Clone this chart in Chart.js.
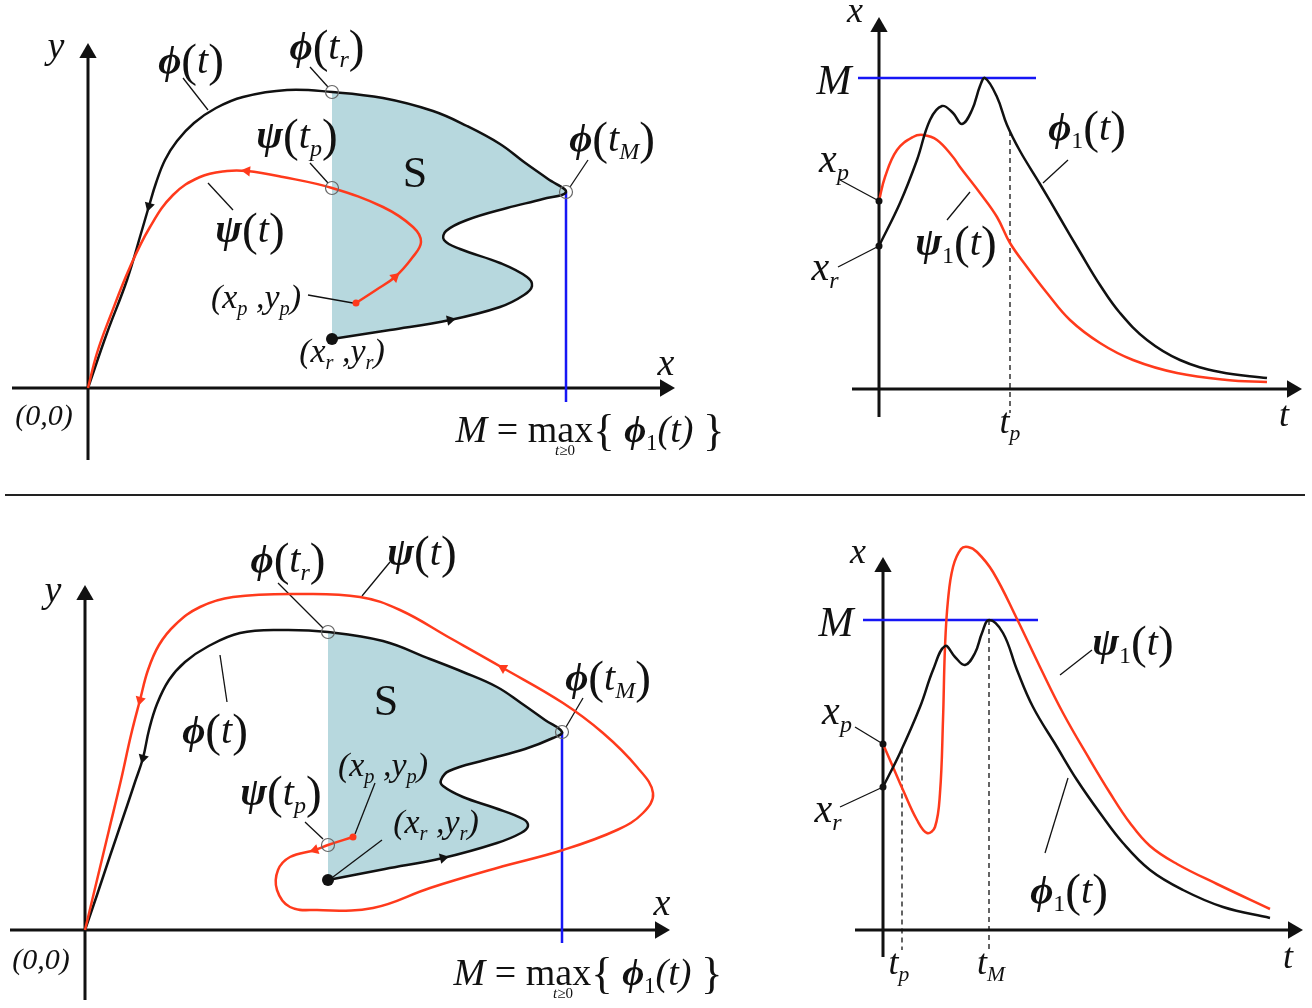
<!DOCTYPE html>
<html>
<head>
<meta charset="utf-8">
<script src="https://cdn.jsdelivr.net/npm/chart.js@4.4.0/dist/chart.umd.min.js"></script>
<style>
  html, body { margin: 0; padding: 0; background: #fff; }
  #page { position: relative; width: 1312px; height: 1008px; overflow: hidden; background: #fff; }
  .panel { position: absolute; }
  #rule { position: absolute; left: 5px; top: 494px; width: 1300px; border-top: 2px solid #222; }
</style>
</head>
<body>
<div id="page">
  <div class="panel" style="left:0;top:0"><canvas id="tl" width="740" height="490"></canvas></div>
  <div class="panel" style="left:760px;top:0"><canvas id="tr" width="552" height="490"></canvas></div>
  <div id="rule"></div>
  <div class="panel" style="left:0;top:500px"><canvas id="bl" width="740" height="508"></canvas></div>
  <div class="panel" style="left:760px;top:500px"><canvas id="br" width="552" height="508"></canvas></div>
</div>
<script>
// ---- data: (x, y), origin at the axes crossing ----

// top left: phase plane, psi(t) stays left of M
const tlPhi = [[244,49],[302,58],[362,68],[412,81],[436,93],[444,102],[439,111],[412,125],[372,139],[356,148],
  [358,157],[379,168],[419,180],[455,189],[478,196],[460,209],[436,226],[412,244],[379,262],[345,277],
  [295,290],[244,296],[199,298],[155,291],[128,280],[106,265],[89,247],[77,228],[68,205],[61,182],
  [54,158],[39,108],[19,55],[0,0]];
const tlPsi = [[268,85],[288,98],[307,111],[324,130],[333,146],[325,161],[295,181],[244,200],[195,211],
  [159,217],[139,217],[112,211],[85,193],[62,161],[42,121],[22,71],[9,35],[0,0]];
const tlPhiArrows = [2, 29];
const tlPsiArrows = [2, 9];
const tlCircles = [[244,296],[244,200],[478,196]];

// top right: first coordinate against time
const trPhi1 = [[0,143],[21,186],[38,229],[51,269],[63,283],[74,276],[83,265],[93,279],[101,303],[106,311],
  [118,292],[128,264],[141,238],[161,205],[181,171],[201,137],[221,104],[241,76],[268,49],[301,29],[341,17],[388,11]];
const trPsi1 = [[0,188],[6,212],[18,239],[34,252],[44,254],[58,249],[74,232],[81,222],[101,196],[118,172],
  [131,146],[148,122],[168,96],[191,69],[221,46],[254,29],[298,16],[348,9],[388,7]];
const trTimes = [131];

// bottom left: phase plane, psi(t) leaves S and passes M
const blPhi = [[243,50],[300,61],[358,72],[412,87],[436,97],[443,104],[438,111],[410,122],[378,133],[358,144],
  [356,150],[364,159],[400,170],[440,181],[468,192],[477,198],[460,210],[436,227],[412,243],[378,258],
  [345,271],[298,289],[243,298],[198,300],[155,297],[122,283],[100,268],[84,250],[72,226],[64,200],
  [58,172],[50,148],[42,124],[25,74],[12,35],[0,0]];
const blPsi = [[268,93],[243,85],[230,80],[205,73],[193,60],[192,40],[205,23],[232,20],[288,22],[345,42],
  [412,62],[478,80],[532,100],[558,117],[568,137],[552,163],[518,197],[478,227],[418,262],[365,292],
  [315,320],[275,333],[215,336],[148,333],[115,323],[90,305],[74,285],[63,260],[55,230],[46,195],
  [36,150],[24,100],[12,50],[0,0]];
const blPhiArrows = [2, 30];
const blPsiArrows = [2, 18, 28];
const blCircles = [[243,298],[243,85],[477,198]];

// bottom right
const brPhi1 = [[0,143],[17,177],[37,223],[50,260],[62,284],[72,273],[82,265],[92,277],[99,297],[106,310],
  [120,297],[134,260],[150,223],[174,183],[194,150],[217,117],[240,87],[267,60],[300,40],[340,23],[387,12]];
const brPsi1 = [[0,186],[10,163],[20,140],[34,110],[44,97],[52,103],[57,137],[60,210],[62,283],[65,330],
  [70,363],[78,381],[85,383],[94,378],[110,358],[134,311],[157,263],[180,217],[207,170],[227,137],
  [247,107],[267,84],[294,66],[334,46],[387,21]];
const brTimes = [19, 106];

// ---- styles ----
const INK = '#111';
const RED = 'rgb(255,58,28)';
const BLUE = 'rgb(22,22,245)';
const SHADE = 'rgb(183,216,222)';
const SERIF = "'Liberation Serif','DejaVu Serif','Times New Roman',serif";

function pts(arr) { return arr.map(p => ({ x: p[0], y: p[1] })); }

function lineSet(arr, color, width, extra) {
  return Object.assign({ data: pts(arr), showLine: true, borderColor: color, borderWidth: width,
    pointRadius: 0, tension: 0, fill: false }, extra || {});
}
function curveSet(arr, color) { return lineSet(arr, color, 2.5, { tension: 0.4 }); }

function markerSet(arr, opts) {
  return Object.assign({ data: pts(arr), showLine: false }, opts);
}

// arrow heads sit on a curve point and point along the curve
function arrowSet(curve, idx, color) {
  const rot = idx.map(i => {
    const a = curve[i - 1], b = curve[i + 1];
    return Math.atan2(b[0] - a[0], b[1] - a[1]) * 180 / Math.PI;
  });
  return markerSet(idx.map(i => curve[i]), { pointStyle: 'triangle', pointRadius: 6, pointRotation: rot,
    pointBackgroundColor: color, pointBorderColor: color, pointBorderWidth: 0 });
}

function axisSets(ax, ay) {
  const r = 10;
  return [
    lineSet([[ax[0], 0], [ax[1] - r, 0]], INK, 3),
    lineSet([[0, ay[0]], [0, ay[1] - r]], INK, 3),
    markerSet([[ax[1] - r, 0], [0, ay[1] - r]], { pointStyle: 'triangle', pointRadius: r,
      pointRotation: [90, 0], pointBackgroundColor: INK, pointBorderColor: INK, pointBorderWidth: 0 })
  ];
}

function circleSet(arr) {
  return markerSet(arr, { pointStyle: 'circle', pointRadius: 6.5, pointBackgroundColor: 'rgba(255,255,255,0)',
    pointBorderColor: '#666', pointBorderWidth: 1.2 });
}
function dotSet(arr, color, r) {
  return markerSet(arr, { pointStyle: 'circle', pointRadius: r, pointBackgroundColor: color,
    pointBorderColor: color, pointBorderWidth: 0 });
}

function valueAt(curve, t) {
  for (let i = 1; i < curve.length; i++) {
    const a = curve[i - 1], b = curve[i];
    if (t >= a[0] && t <= b[0]) return a[1] + (b[1] - a[1]) * (t - a[0]) / (b[0] - a[0]);
  }
  return curve[curve.length - 1][1];
}

// ---- text: '_{..}' subscript, '[..]' upright, big () {} when spec.big ----
function tokenize(text, big) {
  const out = [];
  let italic = true;
  for (let i = 0; i < text.length; i++) {
    const c = text[i];
    if (c === '[') { italic = false; continue; }
    if (c === ']') { italic = true; continue; }
    if (c === '_' && text[i + 1] === '{') {
      const end = text.indexOf('}', i);
      const s = text.slice(i + 2, end);
      out.push({ t: s, italic: italic && !/^\d+$/.test(s), sub: true });
      i = end;
      continue;
    }
    const isBig = '(){}'.includes(c) && (big || c === '{' || c === '}');
    out.push({ t: c, italic, big: isBig, bold: 'ϕψ'.includes(c) });
  }
  return out;
}

function drawMath(ctx, px, py, spec) {
  const size = spec.s;
  const toks = tokenize(spec.t, spec.big);
  let total = 0;
  toks.forEach(k => {
    let fs = size, dy = 0;
    if (k.sub) { fs = size * 0.6; dy = size * 0.2; }
    if (k.big) { fs = size * 1.18; dy = size * 0.07; }
    k.font = (k.italic && !k.big ? 'italic ' : '') + (k.bold ? 'bold ' : '') + fs.toFixed(1) + 'px ' + SERIF;
    ctx.font = k.font;
    k.w = ctx.measureText(k.t).width;
    k.dy = dy;
    total += k.w;
  });
  let x = px - total / 2;
  toks.forEach(k => {
    ctx.font = k.font;
    ctx.fillText(k.t, x, py + k.dy);
    x += k.w;
  });
}

const shadePlugin = {
  id: 'shade',
  beforeDatasetsDraw(chart) {
    const ctx = chart.ctx;
    chart.data.datasets.forEach((ds, i) => {
      if (!ds.shade) return;
      const meta = chart.getDatasetMeta(i);
      const line = meta.dataset;
      ctx.save();
      ctx.beginPath();
      if (line && typeof line.path === 'function') {
        line.updateControlPoints(chart.chartArea, 'x');
        line.path(ctx);
      } else {
        meta.data.forEach((p, k) => k ? ctx.lineTo(p.x, p.y) : ctx.moveTo(p.x, p.y));
      }
      ctx.closePath();
      ctx.fillStyle = ds.shade;
      ctx.fill();
      ctx.restore();
    });
  }
};

function labelPlugin(labels) {
  return {
    id: 'mathLabels',
    afterDatasetsDraw(chart) {
      const ctx = chart.ctx, xs = chart.scales.x, ys = chart.scales.y;
      ctx.save();
      ctx.fillStyle = INK;
      ctx.textBaseline = 'alphabetic';
      ctx.textAlign = 'left';
      labels.forEach(l => drawMath(ctx, xs.getPixelForValue(l.x), ys.getPixelForValue(l.y), l));
      ctx.restore();
    }
  };
}

function makeChart(id, xr, yr, layers, labels) {
  new Chart(document.getElementById(id), {
    type: 'scatter',
    data: { datasets: layers.slice().reverse() },
    options: {
      responsive: false,
      animation: false,
      events: [],
      layout: { padding: 0, autoPadding: false },
      plugins: { legend: { display: false }, tooltip: { enabled: false } },
      scales: {
        x: { type: 'linear', min: xr[0], max: xr[1], display: false },
        y: { type: 'linear', min: yr[0], max: yr[1], display: false }
      }
    },
    plugins: [shadePlugin, labelPlugin(labels)]
  });
}

function phasePanel(c) {
  const tr = c.circles[0];
  const trIdx = c.phi.findIndex(p => p[0] === tr[0] && p[1] === tr[1]);
  const mIdx = c.phi.reduce((b, p, i) => p[0] > c.phi[b][0] ? i : b, 0);
  const M = c.phi[mIdx][0];
  const layers = [
    { data: pts(c.phi.slice(0, trIdx + 1)), showLine: true, borderWidth: 0, pointRadius: 0, tension: 0.4, shade: SHADE },
    ...axisSets(c.axisX, c.axisY),
    lineSet([[M, c.phi[mIdx][1]], [M, c.blueEnd]], BLUE, 2.5),
    ...c.leaders.map(s => lineSet(s, INK, 1.3)),
    curveSet(c.phi, INK),
    curveSet(c.psi, RED),
    arrowSet(c.phi, c.phiArrows, INK),
    arrowSet(c.psi, c.psiArrows, RED),
    circleSet(c.circles),
    dotSet([c.phi[0]], INK, 6),
    dotSet([c.psi[0]], RED, 3.5)
  ];
  makeChart(c.id, c.xr, c.yr, layers, c.labels);
}

function timePanel(c) {
  const M = Math.max(...c.phi1.map(p => p[1]));
  const layers = [
    ...axisSets(c.axisX, c.axisY),
    lineSet([[c.blue[0], M], [c.blue[1], M]], BLUE, 2.5),
    ...c.times.map(t => lineSet([[t, valueAt(c.phi1, t)], [t, c.dashEnd]], INK, 1.3, { borderDash: [5, 4] })),
    ...c.leaders.map(s => lineSet(s, INK, 1.3)),
    curveSet(c.psi1, RED),
    curveSet(c.phi1, INK),
    dotSet([[0, c.phi1[0][1]], [0, c.psi1[0][1]]], INK, 3.5)
  ];
  makeChart(c.id, c.xr, c.yr, layers, c.labels);
}

phasePanel({
  id: 'tl', xr: [-88, 652], yr: [-102, 388], axisX: [-76, 587], axisY: [-72, 345], blueEnd: -14,
  phi: tlPhi, psi: tlPsi, phiArrows: tlPhiArrows, psiArrows: tlPsiArrows, circles: tlCircles,
  leaders: [[[95,310],[120,278]], [[222,321],[240,301]], [[222,225],[240,205]], [[120,205],[145,178]],
            [[220,93],[265,85]], [[500,228],[482,201]]],
  labels: [
    { t: 'y', x: -32, y: 330, s: 38 },
    { t: 'ϕ(t)', x: 103, y: 315, s: 40, big: true },
    { t: 'ϕ(t_{r})', x: 239, y: 329, s: 40, big: true },
    { t: 'ψ(t_{p})', x: 209, y: 240, s: 40, big: true },
    { t: '[S]', x: 327, y: 201, s: 44 },
    { t: 'ψ(t)', x: 162, y: 146, s: 40, big: true },
    { t: '(x_{p} ,y_{p})', x: 168, y: 80, s: 34 },
    { t: '(x_{r} ,y_{r})', x: 254, y: 26, s: 34 },
    { t: '(0,0)', x: -44, y: -37, s: 30 },
    { t: 'x', x: 578, y: 13, s: 38 },
    { t: 'ϕ(t_{M})', x: 524, y: 237, s: 40, big: true },
    { t: 'M[ = max{ ]ϕ_{1}(t)[ }]', x: 502, y: -54, s: 38 },
    { t: 't[≥0]', x: 477, y: -67, s: 15 }
  ]
});

timePanel({
  id: 'tr', xr: [-119, 433], yr: [-101, 389], axisX: [-27, 423], axisY: [-28, 372],
  phi1: trPhi1, psi1: trPsi1, times: trTimes, dashEnd: -24, blue: [-21, 157],
  leaders: [[[164,206],[189,229]], [[-39,209],[0,188]], [[-41,122],[0,143]], [[68,169],[91,197]]],
  labels: [
    { t: 'x', x: -24, y: 367, s: 36 },
    { t: 'M', x: -45, y: 295, s: 42 },
    { t: 'ϕ_{1}(t)', x: 208, y: 249, s: 40, big: true },
    { t: 'x_{p}', x: -45, y: 217, s: 40 },
    { t: 'x_{r}', x: -54, y: 109, s: 40 },
    { t: 'ψ_{1}(t)', x: 77, y: 134, s: 40, big: true },
    { t: 't_{p}', x: 131, y: -44, s: 36 },
    { t: 't', x: 405, y: -37, s: 36 }
  ]
});

phasePanel({
  id: 'bl', xr: [-85, 655], yr: [-78, 430], axisX: [-75, 585], axisY: [-70, 345], blueEnd: -13,
  phi: blPhi, psi: blPsi, phiArrows: blPhiArrows, psiArrows: blPsiArrows, circles: blCircles,
  leaders: [[[193,347],[238,302]], [[305,368],[277,334]], [[142,228],[135,275]], [[290,147],[270,96]],
            [[220,108],[238,91]], [[297,90],[248,53]], [[498,232],[481,203]]],
  labels: [
    { t: 'y', x: -32, y: 328, s: 38 },
    { t: 'ϕ(t_{r})', x: 203, y: 358, s: 40, big: true },
    { t: 'ψ(t)', x: 337, y: 365, s: 40, big: true },
    { t: 'ϕ(t)', x: 130, y: 187, s: 40, big: true },
    { t: '[S]', x: 301, y: 215, s: 44 },
    { t: '(x_{p} ,y_{p})', x: 298, y: 154, s: 34 },
    { t: 'ψ(t_{p})', x: 196, y: 125, s: 40, big: true },
    { t: '(x_{r} ,y_{r})', x: 351, y: 97, s: 34 },
    { t: 'ϕ(t_{M})', x: 523, y: 240, s: 40, big: true },
    { t: '(0,0)', x: -44, y: -39, s: 30 },
    { t: 'x', x: 577, y: 15, s: 38 },
    { t: 'M[ = max{ ]ϕ_{1}(t)[ }]', x: 503, y: -55, s: 38 },
    { t: 't[≥0]', x: 478, y: -68, s: 15 }
  ]
});

timePanel({
  id: 'br', xr: [-123, 429], yr: [-78, 430], axisX: [-28, 420], axisY: [-27, 373],
  phi1: brPhi1, psi1: brPsi1, times: brTimes, dashEnd: -20, blue: [-20, 155],
  leaders: [[[177,255],[209,280]], [[162,77],[185,152]], [[-28,203],[0,186]], [[-43,123],[0,143]]],
  labels: [
    { t: 'x', x: -25, y: 367, s: 36 },
    { t: 'M', x: -47, y: 294, s: 42 },
    { t: 'ψ_{1}(t)', x: 250, y: 275, s: 40, big: true },
    { t: 'ϕ_{1}(t)', x: 186, y: 27, s: 40, big: true },
    { t: 'x_{p}', x: -46, y: 206, s: 40 },
    { t: 'x_{r}', x: -55, y: 108, s: 40 },
    { t: 't_{p}', x: 16, y: -44, s: 36 },
    { t: 't_{M}', x: 108, y: -44, s: 36 },
    { t: 't', x: 405, y: -38, s: 36 }
  ]
});
</script>
</body>
</html>
